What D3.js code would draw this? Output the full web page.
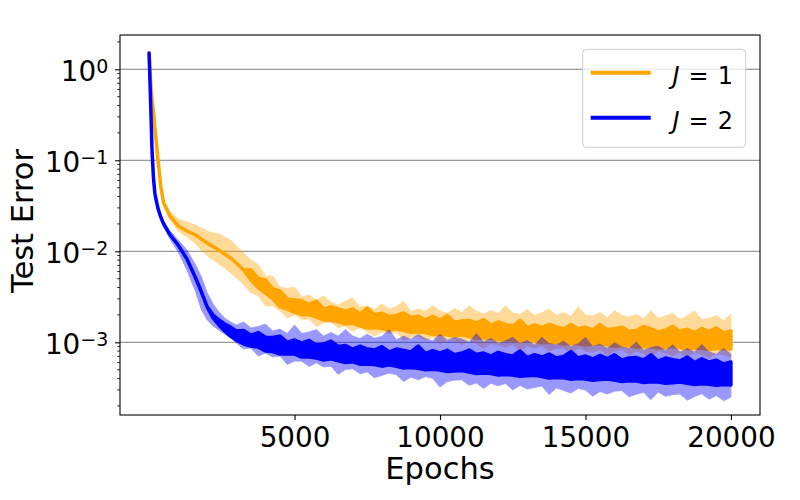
<!DOCTYPE html>
<html>
<head>
<meta charset="utf-8">
<script src="https://cdn.jsdelivr.net/npm/d3@7"></script>
<style>
  body { margin: 0; background: #fff; }
  svg { display: block; font-family: "DejaVu Sans", sans-serif; }
</style>
</head>
<body>
<div id="chart"></div>
<script>
// epochs sampled from the curves (x values)
var epochs = [0, 50, 100, 150, 200, 300, 400, 500, 700, 1000, 1300, 1600, 1800, 2000, 2200, 2400, 2600, 2800,
    3000, 3250, 3500, 3750, 4000, 4250, 4500, 4750, 5000, 5250, 5500, 5750, 6000, 6250, 6500, 6750, 7000, 7250,
    7500, 7750, 8000, 8250, 8500, 8750, 9000, 9250, 9500, 9750, 10000, 10250, 10500, 10750, 11000, 11250,
    11500, 11750, 12000, 12250, 12500, 12750, 13000, 13250, 13500, 13750, 14000, 14250, 14500, 14750, 15000,
    15250, 15500, 15750, 16000, 16250, 16500, 16750, 17000, 17250, 17500, 17750, 18000, 18250, 18500, 18750,
    19000, 19250, 19500, 19750, 20000];

// all test errors below are in units of 1e-3
// J = 2 (blue): upper / lower edge of the noisy mean curve
var blueMeanHi = [1510, 460, 130, 64, 42.7, 30, 23.8, 20, 15.5, 11.7, 8.23, 5.09, 3.57, 2.44, 1.99, 1.76, 1.59, 1.47,
    1.33, 1.35, 1.20, 1.28, 1.14, 1.13, 1.17, 1.00, 1.06, 0.98,
    1.05, 0.935, 0.958, 1.03, 0.90, 0.92, 0.844, 0.91, 0.844, 0.823,
    0.895, 0.782, 0.844, 0.813, 0.782, 0.91, 0.755, 0.81, 0.763, 0.817,
    0.73, 0.763, 0.823, 0.734, 0.763, 0.707, 0.775, 0.73, 0.707, 0.803,
    0.68, 0.73, 0.689, 0.743, 0.672, 0.70, 0.79, 0.672, 0.707, 0.656,
    0.718, 0.662, 0.728, 0.639, 0.672, 0.68, 0.639, 0.728, 0.623, 0.672,
    0.645, 0.623, 0.689, 0.60, 0.66, 0.608, 0.635, 0.58, 0.608];
var blueMeanLo = [1510, 460, 130, 64, 42.7, 30, 23.8, 20, 15.5, 11.7, 8.23, 5.09, 3.57, 2.44, 1.85, 1.55, 1.33, 1.17,
    1.06, 0.958, 0.91, 0.888, 0.803, 0.793, 0.743, 0.743, 0.743, 0.689,
    0.689, 0.672, 0.639, 0.66, 0.625, 0.60, 0.61, 0.575, 0.578, 0.57,
    0.547, 0.566, 0.545, 0.522, 0.53, 0.52, 0.50, 0.505, 0.497, 0.478,
    0.484, 0.49, 0.472, 0.455, 0.46, 0.455, 0.437, 0.443, 0.437, 0.423,
    0.428, 0.435, 0.42, 0.405, 0.41, 0.407, 0.393, 0.40, 0.395, 0.383,
    0.39, 0.396, 0.384, 0.371, 0.377, 0.375, 0.362, 0.369, 0.366, 0.355,
    0.36, 0.367, 0.355, 0.344, 0.35, 0.347, 0.337, 0.343, 0.34];
// J = 2 (blue): shaded spread
var blueBandHi = [1510, 500, 140, 70, 46, 32, 25.5, 21.5, 17.1, 13.3, 10.35, 7.07, 5.22, 3.48, 2.64, 2.15, 1.85, 1.67,
    1.55, 1.67, 1.44, 1.49, 1.59, 1.33, 1.40, 1.25, 1.55, 1.25,
    1.30, 1.38, 1.17, 1.28, 1.17, 1.38, 1.17, 1.10, 1.23, 1.11,
    1.16, 1.38, 1.065, 1.17, 1.08, 1.22, 1.10, 1.04, 1.23, 1.05,
    1.13, 1.09, 1.00, 1.25, 1.01, 1.11, 0.97, 1.04, 1.14, 0.975,
    1.045, 0.937, 1.14, 0.97, 0.94, 1.03, 0.90, 0.965, 1.14, 0.90,
    0.96, 0.86, 0.99, 0.888, 0.857, 1.01, 0.82, 0.875, 0.91, 0.815,
    0.94, 0.78, 0.853, 0.782, 0.95, 0.787, 0.74, 0.853, 0.743];
var blueBandLo = [1510, 420, 120, 58, 39, 28, 22, 18.5, 14.0, 9.82, 6.23, 3.57, 2.26, 1.76, 1.51, 1.365, 1.23, 1.115,
    0.98, 0.844, 0.866, 0.707, 0.763, 0.689, 0.707, 0.57, 0.623, 0.62,
    0.542, 0.596, 0.536, 0.547, 0.445, 0.503, 0.513, 0.451, 0.472, 0.408,
    0.433, 0.459, 0.44, 0.371, 0.414, 0.387, 0.42, 0.402, 0.323, 0.37,
    0.384, 0.388, 0.337, 0.357, 0.31, 0.355, 0.333, 0.353, 0.30, 0.336,
    0.307, 0.319, 0.331, 0.267, 0.315, 0.296, 0.277, 0.311, 0.30, 0.255,
    0.288, 0.271, 0.29, 0.296, 0.252, 0.269, 0.282, 0.234, 0.285, 0.255,
    0.266, 0.271, 0.231, 0.254, 0.272, 0.237, 0.26, 0.228, 0.25];

// J = 1 (orange): upper / lower edge of the noisy mean curve
var orangeMeanHi = [1510, 762, 460, 339, 226, 106, 52.2, 34, 25, 19, 16.7, 15.1, 13.6, 12.3, 11.3, 10.3, 9.34, 8.44,
    7.44, 6.23, 6.23, 5.03, 4.84, 3.86, 3.66, 2.99, 2.92, 2.86,
    2.60, 2.83, 2.32, 2.45, 2.32, 2.21, 2.32, 2.05, 2.38, 2.01,
    2.09, 1.91, 1.98, 2.10, 1.87, 1.94, 1.77, 1.93, 1.76, 1.97,
    1.66, 1.72, 1.74, 1.63, 1.78, 1.54, 1.68, 1.57, 1.51, 1.745,
    1.45, 1.55, 1.46, 1.57, 1.48, 1.40, 1.57, 1.41, 1.47, 1.36,
    1.57, 1.38, 1.41, 1.47, 1.32, 1.35, 1.49, 1.41, 1.30, 1.36,
    1.50, 1.32, 1.39, 1.28, 1.42, 1.31, 1.44, 1.27, 1.33];
var orangeMeanLo = [1510, 762, 460, 339, 226, 106, 52.2, 34, 25, 19, 16.7, 15.1, 13.6, 12.3, 11.3, 10.3, 9.34, 8.44,
    7.44, 6.23, 4.84, 4.00, 3.48, 3.03, 2.45, 2.32, 2.15, 2.01,
    2.02, 1.89, 1.76, 1.745, 1.68, 1.59, 1.62, 1.52, 1.44, 1.45,
    1.42, 1.36, 1.41, 1.35, 1.29, 1.31, 1.28, 1.22, 1.23, 1.21,
    1.165, 1.21, 1.16, 1.115, 1.125, 1.11, 1.065, 1.075, 1.06, 1.02,
    1.065, 1.03, 0.99, 1.00, 0.997, 0.96, 0.977, 0.967, 0.935, 0.95,
    0.967, 0.937, 0.906, 0.92, 0.915, 0.885, 0.90, 0.895, 0.866, 0.88,
    0.90, 0.874, 0.848, 0.866, 0.861, 0.835, 0.853, 0.848, 0.844];
// J = 1 (orange): shaded spread
var orangeBandHi = [1510, 800, 490, 360, 240, 115, 57, 36.6, 27.7, 22.6, 21.0, 19.4, 18.0, 16.7, 15.9, 15.5, 14.4, 13.3,
    11.4, 9.58, 8.02, 7.16, 5.35, 5.35, 4.05, 3.90, 4.05, 3.15,
    3.31, 2.92, 3.23, 2.77, 2.57, 2.85, 3.07, 2.45, 2.51, 2.30,
    2.65, 2.31, 2.47, 2.85, 2.18, 2.33, 2.20, 2.53, 2.21, 2.09,
    2.36, 2.12, 2.52, 2.21, 2.04, 2.24, 2.07, 2.52, 2.10, 2.04,
    2.30, 1.97, 2.11, 2.32, 1.98, 2.13, 1.92, 2.46, 1.99, 1.94,
    2.13, 1.87, 2.22, 1.99, 1.89, 2.02, 1.82, 2.22, 1.85, 1.94,
    2.08, 1.78, 1.96, 2.21, 1.79, 1.83, 1.97, 1.72, 2.05];
var orangeBandLo = [1510, 720, 430, 318, 212, 97, 48, 31.5, 22.6, 16.7, 14.4, 12.0, 10.3, 8.87, 8.02, 7.25, 6.56, 5.78,
    5.09, 4.32, 3.48, 3.27, 2.51, 2.51, 2.21, 1.85, 1.99, 1.78,
    1.80, 1.49, 1.63, 1.66, 1.45, 1.51, 1.32, 1.45, 1.30, 1.175,
    1.30, 1.24, 1.28, 1.05, 1.13, 1.16, 1.055, 1.14, 0.958, 1.045,
    1.055, 0.94, 1.05, 0.958, 0.853, 0.977, 0.94, 0.88, 0.958, 0.815,
    0.915, 0.86, 0.92, 0.803, 0.857, 0.87, 0.74, 0.875, 0.803, 0.777,
    0.83, 0.727, 0.80, 0.834, 0.728, 0.80, 0.755, 0.677, 0.803, 0.759,
    0.718, 0.77, 0.676, 0.782, 0.72, 0.68, 0.75, 0.728, 0.689];

var xTicks = [5000, 10000, 15000, 20000];
var yTicks = [1, 0.1, 0.01, 0.001];
var yTickExp = ["0", "\u22121", "\u22122", "\u22123"];
var legendLabels = ["1", "2"];
var colors = ["orange", "blue"];

var W = 800, H = 500,
    plotL = 120, plotR = 760, plotT = 35, plotB = 415;

var svg = d3.select("#chart").append("svg")
    .attr("width", W)
    .attr("height", H);

var x = d3.scaleLinear().domain([-1000, 21000]).range([plotL, plotR]);
var y = d3.scaleLog().domain([1.59e-4, 2.38]).range([plotB, plotT]);

svg.append("clipPath").attr("id", "plot-clip")
    .append("rect")
    .attr("x", plotL).attr("y", plotT)
    .attr("width", plotR - plotL).attr("height", plotB - plotT);

// horizontal grid at the decades
svg.append("g").selectAll("line")
    .data(yTicks)
    .enter()
    .append("line")
    .attr("x1", plotL).attr("x2", plotR)
    .attr("y1", function (d) { return y(d); })
    .attr("y2", function (d) { return y(d); })
    .attr("stroke", "#808080")
    .attr("stroke-width", 1);

var toRows = function (hi, lo) {
    return epochs.map(function (e, i) {
        return { e: e, hi: hi[i] * 1e-3, lo: lo[i] * 1e-3 };
    });
};

var area = d3.area()
    .x(function (d) { return x(d.e); })
    .y0(function (d) { return y(d.lo); })
    .y1(function (d) { return y(d.hi); });

var plot = svg.append("g").attr("clip-path", "url(#plot-clip)");

var runs = [
    { color: colors[0], band: toRows(orangeBandHi, orangeBandLo), mean: toRows(orangeMeanHi, orangeMeanLo) },
    { color: colors[1], band: toRows(blueBandHi, blueBandLo), mean: toRows(blueMeanHi, blueMeanLo) }
];

runs.forEach(function (r) {
    plot.append("path")
        .datum(r.band)
        .attr("d", area)
        .attr("fill", r.color)
        .attr("stroke", r.color)
        .attr("stroke-width", 0.8)
        .attr("opacity", 0.4);

    plot.append("path")
        .datum(r.mean)
        .attr("d", area)
        .attr("fill", r.color)
        .attr("stroke", r.color)
        .attr("stroke-width", 3.5)
        .attr("stroke-linejoin", "round");
});

// frame
svg.append("rect")
    .attr("x", plotL).attr("y", plotT)
    .attr("width", plotR - plotL).attr("height", plotB - plotT)
    .attr("fill", "none")
    .attr("stroke", "#000")
    .attr("stroke-width", 1.1);

// x axis
var xAxis = svg.append("g")
    .attr("transform", "translate(0," + plotB + ")")
    .call(d3.axisBottom(x).tickValues(xTicks).tickSize(4.9).tickPadding(7).tickFormat(d3.format("d")));
xAxis.select(".domain").remove();
xAxis.selectAll(".tick line").attr("stroke-width", 1.1);
xAxis.selectAll("text")
    .attr("font-family", "DejaVu Sans")
    .attr("font-size", 27.8)
    .attr("fill", "#000");

// y axis (log, with minor ticks)
var yAxis = svg.append("g")
    .attr("transform", "translate(" + plotL + ",0)")
    .call(d3.axisLeft(y).tickValues(yTicks).tickSize(4.9).tickPadding(6.8).tickFormat(""));
yAxis.select(".domain").remove();
yAxis.selectAll(".tick line").attr("stroke-width", 1.1);
yAxis.selectAll(".tick text")
    .attr("font-family", "DejaVu Sans")
    .attr("font-size", 27.8)
    .attr("fill", "#000")
    .attr("dy", 11.4)
    .each(function (d, i) {
        var t = d3.select(this);
        t.append("tspan").text("10");
        t.append("tspan").attr("font-size", 19).attr("dy", -8.5).text(yTickExp[i]);
    });

var minor = [];
[-4, -3, -2, -1, 0].forEach(function (k) {
    [2, 3, 4, 5, 6, 7, 8, 9].forEach(function (m) {
        var v = m * Math.pow(10, k);
        if (v > y.domain()[0] && v < y.domain()[1]) minor.push(v);
    });
});
svg.append("g").selectAll("line")
    .data(minor)
    .enter()
    .append("line")
    .attr("x1", plotL).attr("x2", plotL - 2.8)
    .attr("y1", function (d) { return y(d); })
    .attr("y2", function (d) { return y(d); })
    .attr("stroke", "#000")
    .attr("stroke-width", 0.8);

// axis titles
svg.append("text")
    .attr("x", (plotL + plotR) / 2)
    .attr("y", 479.3)
    .attr("text-anchor", "middle")
    .attr("font-size", 30.5)
    .text("Epochs");

svg.append("text")
    .attr("transform", "translate(33,221) rotate(-90)")
    .attr("text-anchor", "middle")
    .attr("font-size", 30.5)
    .text("Test Error");

// legend
var lg = svg.append("g");
lg.append("rect")
    .attr("x", 582.7).attr("y", 49.3)
    .attr("width", 163).attr("height", 98)
    .attr("rx", 4)
    .attr("fill", "#fff").attr("fill-opacity", 0.8)
    .attr("stroke", "#cccccc").attr("stroke-width", 1);

var items = lg.selectAll("g.item")
    .data(legendLabels)
    .enter()
    .append("g")
    .attr("class", "item")
    .attr("transform", function (d, i) { return "translate(0," + (72.7 + i * 45) + ")"; });

items.append("line")
    .attr("x1", 590.7).attr("x2", 650.7)
    .attr("stroke", function (d, i) { return colors[i]; })
    .attr("stroke-width", 4);

var lt = items.append("text")
    .attr("x", 672.5)
    .attr("y", 10.8)
    .attr("font-size", 24);
lt.append("tspan").attr("font-style", "italic").text("J");
lt.append("tspan").attr("dx", 9).text("=");
lt.append("tspan").attr("dx", 9).text(function (d) { return d; });
</script>
</body>
</html>
